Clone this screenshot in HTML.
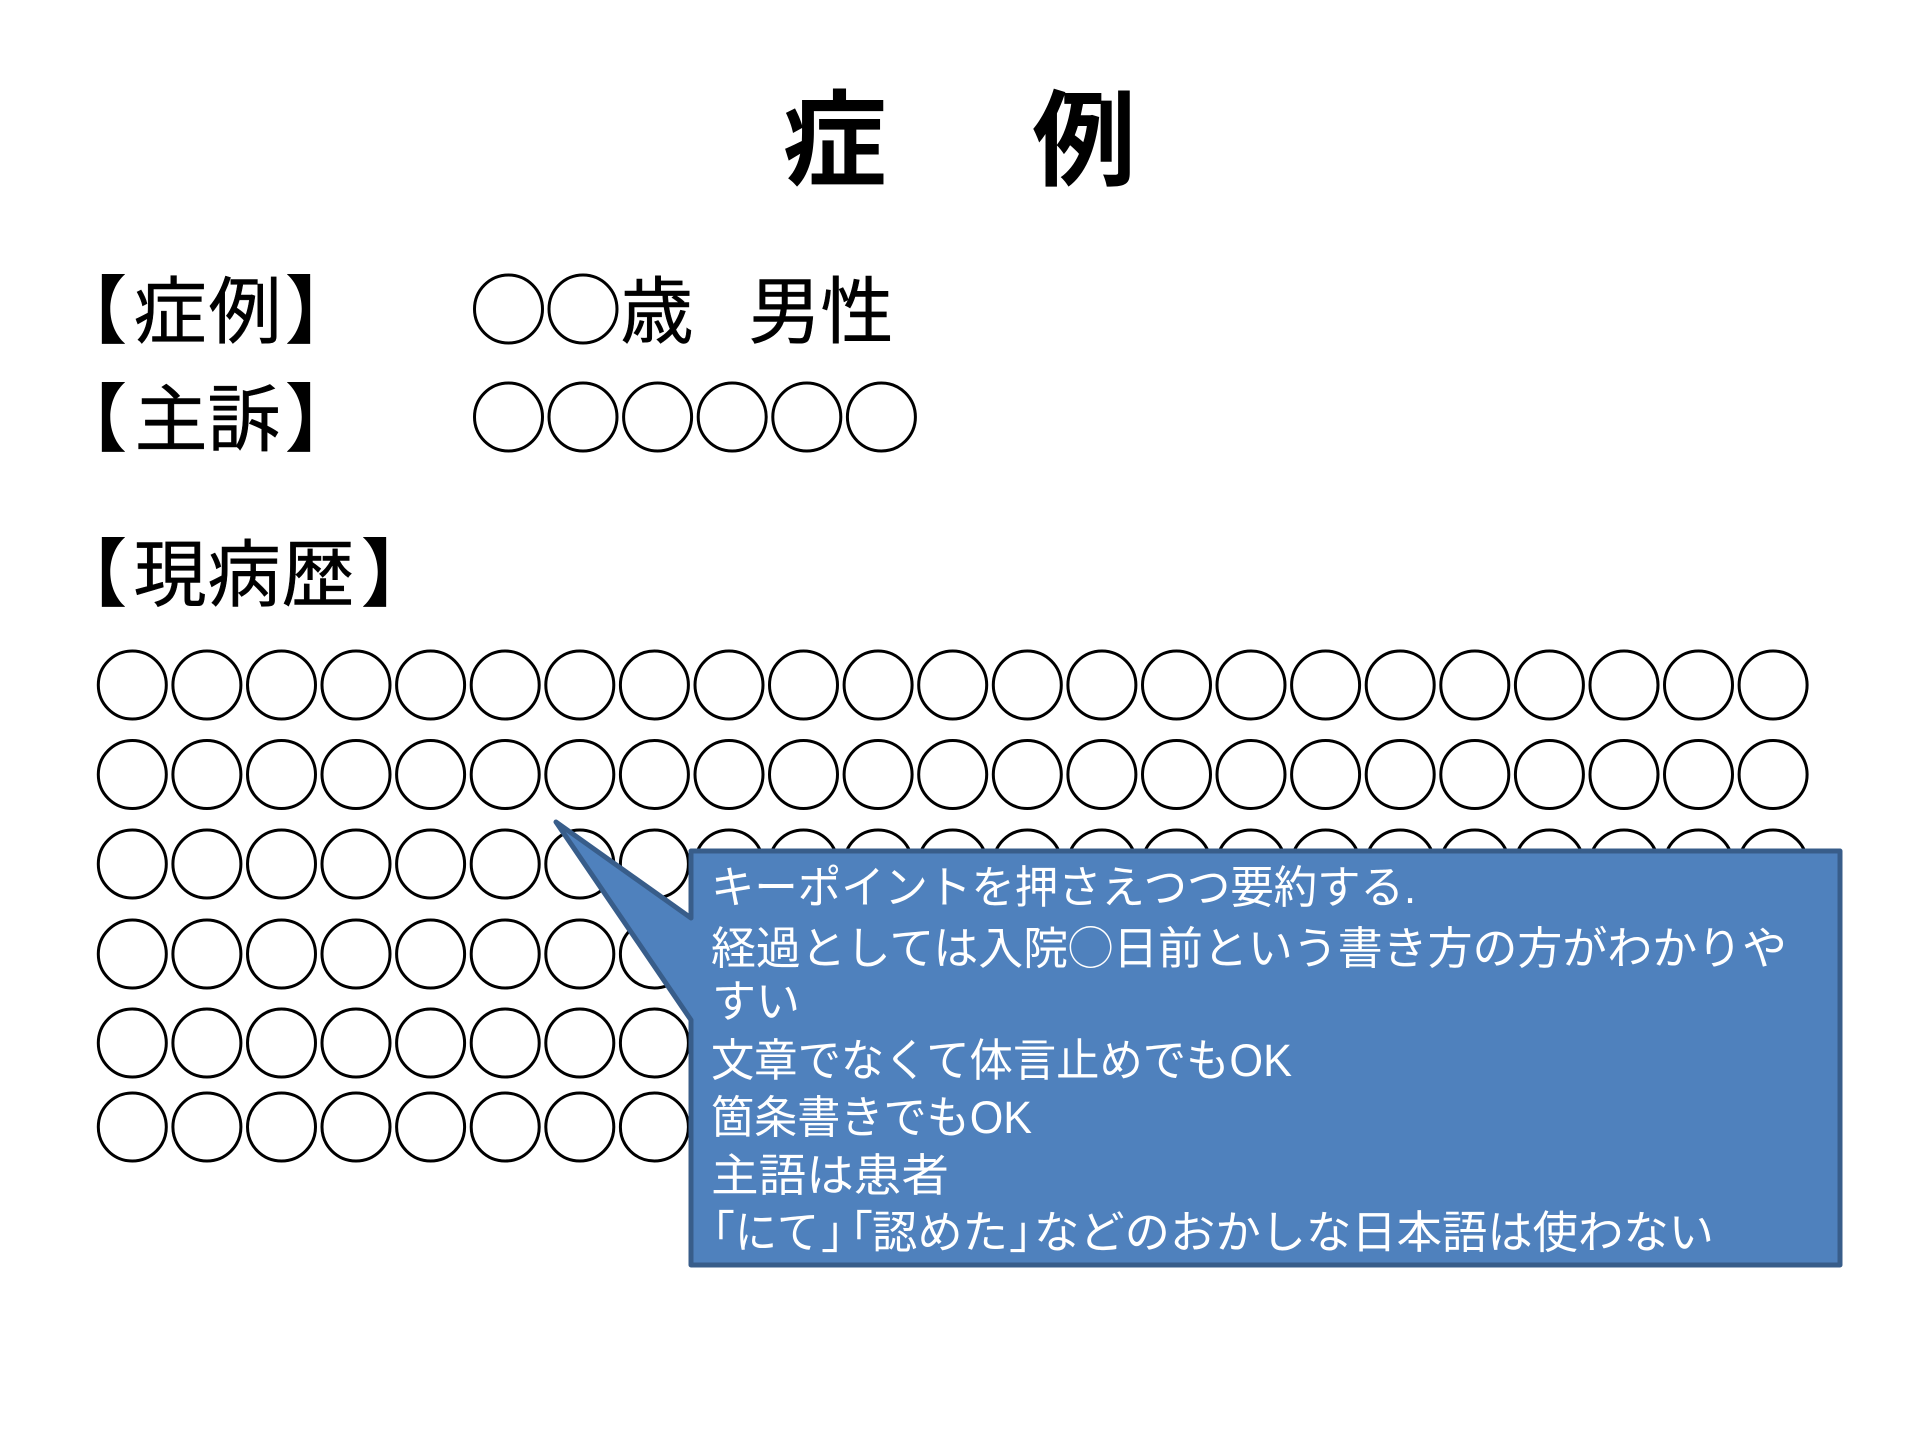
<!DOCTYPE html>
<html lang="ja"><head><meta charset="utf-8"><title>症例</title>
<style>
html,body{margin:0;padding:0;background:#fff}
svg{display:block}
text{font-family:"Liberation Sans","Noto Sans CJK JP",sans-serif;fill:#000}
.h{font-size:73px;text-anchor:middle;stroke:#000;stroke-width:.5px}
.b{font-size:74px;font-weight:700;text-anchor:middle}
.t{font-size:104px;font-weight:700;text-anchor:middle}
.c{font-size:45px;fill:#fff}
</style></head><body>
<svg xmlns="http://www.w3.org/2000/svg" width="1920" height="1440" viewBox="0 0 1920 1440">
<rect width="1920" height="1440" fill="#fff"/>
<text class="t" x="834.5" y="177">症</text>
<text class="t" x="1084" y="177">例</text>

<text class="b" x="90" y="337">【</text><text class="h" x="170" y="337">症</text><text class="h" x="245" y="337">例</text><text class="b" x="322" y="337">】</text>
<text class="b" x="90" y="445">【</text><text class="h" x="171" y="445">主</text><text class="h" x="244" y="445">訴</text><text class="b" x="322" y="445">】</text>
<text class="b" x="90" y="600">【</text><text class="h" x="170" y="600">現</text><text class="h" x="244" y="600">病</text><text class="h" x="318" y="600">歴</text><text class="b" x="398" y="600">】</text>
<text class="h" x="657" y="337">歳</text><text class="h" x="785" y="337">男</text><text class="h" x="857" y="337">性</text>

<g fill="none" stroke="#000" stroke-width="3">
<circle cx="508.5" cy="309" r="34"/><circle cx="583" cy="309" r="34"/>
<circle cx="508.5" cy="417" r="34"/><circle cx="583" cy="417" r="34"/><circle cx="657.6" cy="417" r="34"/><circle cx="732.2" cy="417" r="34"/><circle cx="806.8" cy="417" r="34"/><circle cx="881.4" cy="417" r="34"/>
<g id="row">
<circle cx="132.3" cy="685" r="34"/><circle cx="206.9" cy="685" r="34"/><circle cx="281.5" cy="685" r="34"/><circle cx="356" cy="685" r="34"/><circle cx="430.6" cy="685" r="34"/><circle cx="505.2" cy="685" r="34"/><circle cx="579.8" cy="685" r="34"/><circle cx="654.4" cy="685" r="34"/><circle cx="729" cy="685" r="34"/><circle cx="803.5" cy="685" r="34"/><circle cx="878.1" cy="685" r="34"/><circle cx="952.7" cy="685" r="34"/><circle cx="1027.3" cy="685" r="34"/><circle cx="1101.9" cy="685" r="34"/><circle cx="1176.5" cy="685" r="34"/><circle cx="1251" cy="685" r="34"/><circle cx="1325.6" cy="685" r="34"/><circle cx="1400.2" cy="685" r="34"/><circle cx="1474.8" cy="685" r="34"/><circle cx="1549.4" cy="685" r="34"/><circle cx="1624" cy="685" r="34"/><circle cx="1698.5" cy="685" r="34"/><circle cx="1773.1" cy="685" r="34"/>
</g>
<use href="#row" y="89.5"/>
<use href="#row" y="179"/>
<use href="#row" y="269"/>
<use href="#row" y="358"/>
<use href="#row" y="442"/>
</g>

<path d="M556,822 L691,918 L691,851 L1840,851 L1840,1265 L691,1265 L691,1020 Z" fill="#4f81bd" stroke="#385d8a" stroke-width="5" stroke-linejoin="round"/>

<text class="c" x="711" y="903" textLength="705" lengthAdjust="spacingAndGlyphs">キーポイントを押さえつつ要約する.</text>
<text class="c" x="711" y="964" textLength="1076" lengthAdjust="spacingAndGlyphs">経過としては入院◯日前という書き方の方がわかりや</text>
<text class="c" x="712" y="1017" textLength="88" lengthAdjust="spacingAndGlyphs">すい</text>
<text class="c" x="711" y="1076" textLength="581" lengthAdjust="spacingAndGlyphs">文章でなくて体言止めでもOK</text>
<text class="c" x="711" y="1133" textLength="321" lengthAdjust="spacingAndGlyphs">箇条書きでもOK</text>
<text class="c" x="711" y="1191" textLength="238" lengthAdjust="spacingAndGlyphs">主語は患者</text>
<text class="c" x="690" y="1248">「</text>
<text class="c" x="735" y="1248" textLength="84" lengthAdjust="spacingAndGlyphs">にて</text>
<text class="c" x="821" y="1248">」</text>
<text class="c" x="828" y="1248">「</text>
<text class="c" x="872" y="1248" textLength="136" lengthAdjust="spacingAndGlyphs">認めた</text>
<text class="c" x="1009" y="1248">」</text>
<text class="c" x="1034" y="1248" textLength="680" lengthAdjust="spacingAndGlyphs">などのおかしな日本語は使わない</text>
</svg>
</body></html>
